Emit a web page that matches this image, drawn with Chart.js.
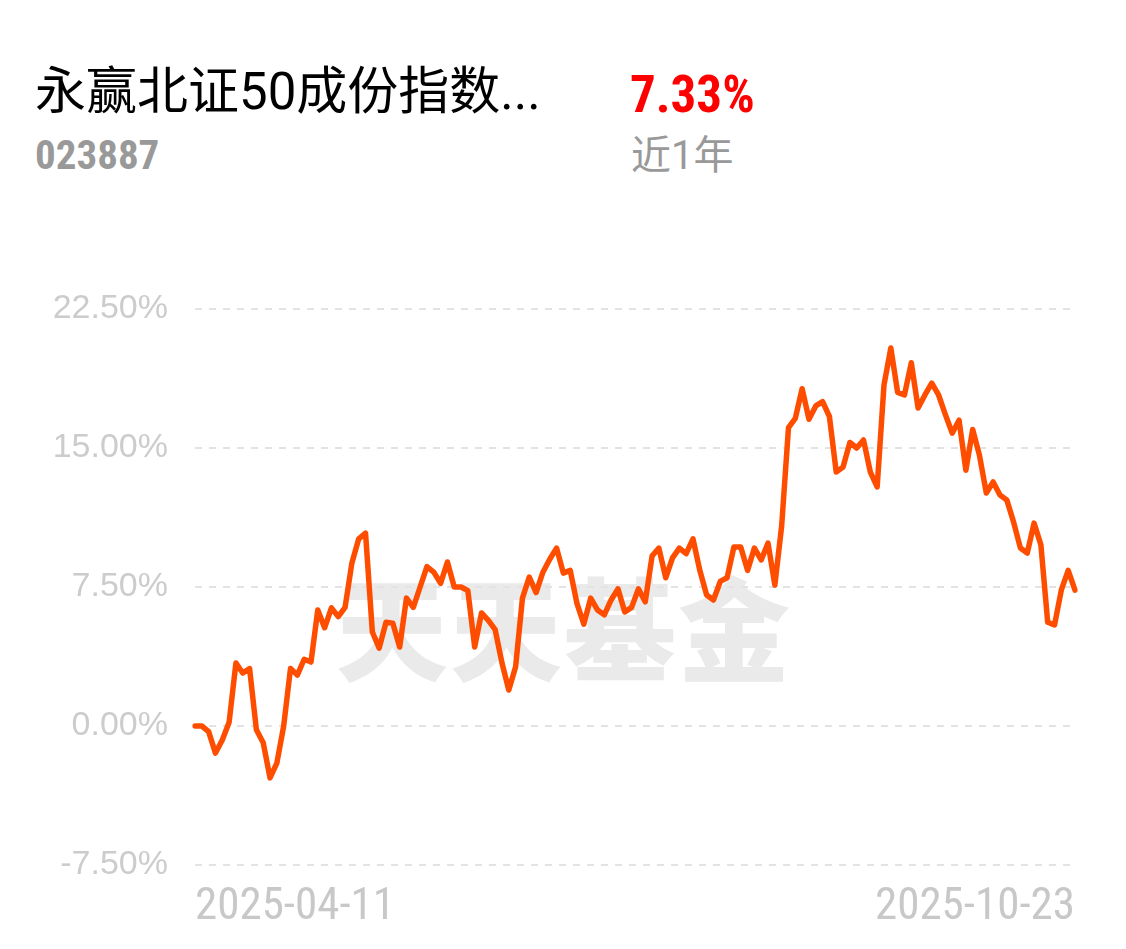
<!DOCTYPE html>
<html>
<head>
<meta charset="utf-8">
<script src="https://cdn.jsdelivr.net/npm/chart.js@4.4.1/dist/chart.umd.min.js"></script>
<style>
  html, body { margin: 0; padding: 0; background: #fff; }
  body { width: 1126px; height: 949px; position: relative; overflow: hidden; }
  #title { position: absolute; left: 35px; top: 66px; font: 400 51px Roboto, 'Noto Sans CJK SC', sans-serif; color: #000; white-space: nowrap; line-height: 1; }
  #code { position: absolute; left: 35px; top: 135px; font: 700 41px 'Roboto Condensed', Roboto, sans-serif; color: #999; line-height: 1; }
  #ret { position: absolute; left: 630px; top: 69px; font: 700 51px 'Roboto Condensed', Roboto, sans-serif; color: #ff0000; line-height: 1; }
  #period { position: absolute; left: 631px; top: 136px; font: 400 40px Roboto, 'Noto Sans CJK SC', sans-serif; color: #999; line-height: 1; }
  #wm { position: absolute; left: 336px; top: 568px; font: 900 112px 'Noto Sans CJK SC', sans-serif; color: #eaeaea; letter-spacing: 2px; line-height: 1; white-space: nowrap; }
  #c { position: absolute; left: 0; top: 0; }
</style>
</head>
<body>
<div id="wm">天天基金</div>
<div id="title">永赢北证50成份指数...</div>
<div id="code">023887</div>
<div id="ret">7.33%</div>
<div id="period">近1年</div>
<canvas id="c" width="1126" height="949"></canvas>
<script>
// ---- data ----
const xTickLabels = ['2025-04-11', '2025-10-23'];
const returns = [
  0.0, 0.0, -0.3, -1.46, -0.76, 0.2, 3.4, 2.86, 3.1, -0.2,
  -0.9, -2.8, -2.0, 0.0, 3.1, 2.75, 3.6, 3.45, 6.26, 5.3,
  6.37, 5.9, 6.4, 8.8, 10.1, 10.4, 5.07, 4.2, 5.6, 5.55,
  4.26, 6.9, 6.4, 7.5, 8.6, 8.3, 7.7, 8.85, 7.5, 7.5,
  7.3, 4.26, 6.1, 5.7, 5.2, 3.4, 1.94, 3.2, 6.9, 8.04,
  7.2, 8.3, 9.0, 9.6, 8.25, 8.4, 6.6, 5.5, 6.9, 6.26,
  6.0, 6.8, 7.4, 6.15, 6.4, 7.4, 6.7, 9.17, 9.6, 8.0,
  9.07, 9.6, 9.3, 10.1, 8.4, 7.07, 6.8, 7.8, 8.0, 9.66,
  9.66, 8.4, 9.6, 8.96, 9.87, 7.6, 10.8, 16.1, 16.6, 18.2,
  16.55, 17.27, 17.5, 16.7, 13.7, 13.97, 15.3, 15.0, 15.43, 13.7,
  12.9, 18.4, 20.4, 18.0, 17.86, 19.6, 17.16, 17.86, 18.5, 17.86,
  16.8, 15.8, 16.5, 13.8, 16.0, 14.6, 12.57, 13.17, 12.46, 12.2,
  11.0, 9.6, 9.33, 10.95, 9.77, 5.6, 5.45, 7.34, 8.4, 7.33
];
const yTicks = [-7.5, 0, 7.5, 15, 22.5];
const categories = returns.map((_, i) => i);

const last = returns.length - 1;
new Chart(document.getElementById('c'), {
  type: 'line',
  data: {
    labels: categories,
    datasets: [{
      data: returns,
      borderColor: '#ff4d00',
      borderWidth: 5.5,
      pointRadius: 0,
      tension: 0,
      borderJoinStyle: 'round',
      borderCapStyle: 'round',
      fill: false
    }]
  },
  options: {
    responsive: false,
    animation: false,
    events: [],
    layout: { padding: { top: 309, right: 51, left: 0, bottom: 0 } },
    plugins: { legend: { display: false }, tooltip: { enabled: false } },
    scales: {
      x: {
        type: 'category',
        offset: false,
        grid: { display: false, drawTicks: false },
        border: { display: false },
        ticks: {
          autoSkip: false,
          maxRotation: 0,
          minRotation: 0,
          align: 'inner',
          padding: 16,
          color: '#c8c8c8',
          font: { family: "'Roboto Condensed', Roboto, sans-serif", size: 45 },
          callback: (v, i) => i === 0 ? xTickLabels[0] : (i === last ? xTickLabels[1] : '')
        },
        afterFit: (s) => { s.height = 949 - 865; }
      },
      y: {
        min: -7.5,
        max: 22.5,
        afterBuildTicks: (s) => { s.ticks = yTicks.map(v => ({ value: v })); },
        grid: { color: '#e3e3e3', lineWidth: 2, drawTicks: false },
        border: { display: false, dash: [7, 7] },
        ticks: {
          padding: 27,
          color: '#cccccc',
          font: { family: "'Liberation Sans', Roboto, sans-serif", size: 34 },
          callback: (v) => v.toFixed(2) + '%'
        },
        afterFit: (s) => { s.width = 195; }
      }
    }
  }
});
</script>
</body>
</html>
